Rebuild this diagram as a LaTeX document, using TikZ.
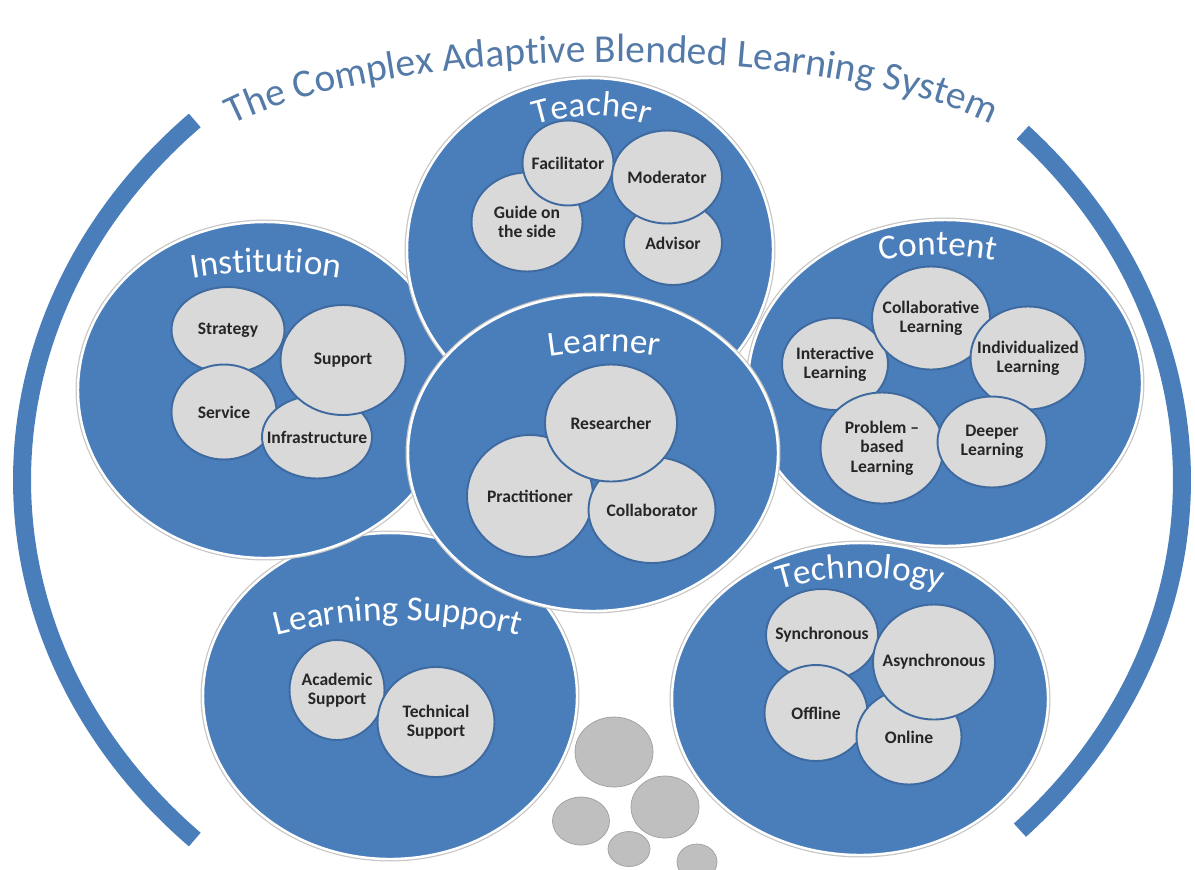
\documentclass[tikz,border=0pt]{standalone}
\usepackage{fontspec}
\setmainfont{Carlito}
\usetikzlibrary{shapes.geometric,decorations.text}
\definecolor{capblue}{RGB}{74,126,187}
\definecolor{capgray}{RGB}{217,217,217}
\definecolor{capline}{RGB}{62,106,160}
\definecolor{titleblue}{RGB}{84,122,168}
\definecolor{pebblegray}{RGB}{191,191,191}
\newcommand{\titlefont}{\fontsize{22.5}{27}\selectfont}
\newcommand{\lblfont}{\fontsize{20}{24}\selectfont}
\newcommand{\lbl}[4]{%
  \path[decorate,decoration={text along path,text align=center,text color=white,
    text={|\lblfont|#4}}]
    (#1,#2) ++(0,#3) ++(-140:#3) arc[start angle=-140,end angle=-40,radius=#3];}
\begin{document}
\begin{tikzpicture}[x=0.02cm,y=-0.02cm]
\tikzset{big/.style={ellipse,fill=capblue,draw=white,line width=1.4pt,preaction={draw=gray!45,line width=2.8pt}}}
\tikzset{sub/.style={ellipse,fill=capgray,draw=capline,line width=1.1pt,inner sep=-25pt,align=center,font=\bfseries\fontsize{10}{11}\selectfont,text=black!85}}
\tikzset{pebble/.style={ellipse,fill=pebblegray,draw=gray!75,line width=0.4pt}}
\tikzset{sz/.style 2 args={minimum width=#1*0.02cm,minimum height=#2*0.02cm}}
\tikzset{band/.style={draw=capblue,line width=0.36cm}}
\useasboundingbox (0,0) rectangle (1195,869);

\draw[band] (602,480) ++(225.4:580 and 505) arc[start angle=225.4,end angle=134.6,x radius=580,y radius=505];
\draw[band] (602,480) ++(-43.5:580 and 505) arc[start angle=-43.5,end angle=43.9,x radius=580,y radius=505];
\path[decorate,decoration={text along path,text align=center,text color=titleblue,
  text={|\titlefont|The Complex Adaptive Blended Learning System}}]
  (612,180) ++(-155:430 and 118) arc[start angle=-155,end angle=-25,x radius=430,y radius=118];

\node[big,sz={374}{326}] (lsup) at (390,696) {};
\node[sub,sz={95}{100}] (acad) at (337,690) {Academic\\Support};
\node[sub,sz={117}{110}] (techsup) at (436,722) {Technical\\Support};
\lbl{398}{620}{480}{Learning Support}

\node[big,sz={376}{312}] (techn) at (860,699) {};
\node[sub,sz={112}{92}] (sync) at (822,635) {Synchronous};
\node[sub,sz={103}{96}] (offl) at (816,713) {Offline};
\node[sub,sz={105}{95}] (onl) at (909,737) {Online};
\node[sub,sz={122}{115}] (async) at (934,662) {Asynchronous};
\lbl{860}{578}{280}{Technology}

\node[big,sz={374}{336}] (inst) at (265,390) {};
\node[sub,sz={113}{86}] (strat) at (228,330) {Strategy};
\node[sub,sz={105}{95}] (serv) at (224,412) {Service};
\node[sub,sz={110}{83}] (infra) at (317,437) {Infrastructure};
\node[sub,sz={125}{110}] (supp) at (343,360) {Support};
\lbl{266}{272}{440}{Institution}

\node[big,sz={394}{326}] (cont) at (945,383) {};
\node[sub,sz={106}{92}] (inter) at (835,364) {Interactive\\Learning};
\node[sub,sz={118}{103}] (colab) at (931,318) {Collaborative\\Learning};
\node[sub,sz={115}{103}] (indiv) at (1028,358) {Individualized\\Learning};
\node[sub,sz={123}{111}] (probl) at (882,448) {Problem --\\based\\Learning};
\node[sub,sz={109}{91}] (deep) at (992,442) {Deeper\\Learning};
\lbl{938}{255}{300}{Content}

\node[big,sz={366}{344}] (teach) at (590,250) {};
\node[sub,sz={111}{99}] (guide) at (527,222) {Guide on\\the side};
\node[sub,sz={91}{85}] (facil) at (568,163) {Facilitator};
\node[sub,sz={98}{84}] (advis) at (673,243) {Advisor};
\node[sub,sz={110}{93}] (moder) at (667,177) {Moderator};
\lbl{592}{116}{190}{Teacher}

\node[big,sz={370}{316}] (learn) at (593,453) {};
\node[sub,sz={126}{122}] (pract) at (530,496) {Practitioner};
\node[sub,sz={127}{106}] (collab) at (652,510) {Collaborator};
\node[sub,sz={132}{117}] (resea) at (611,423) {Researcher};
\lbl{604}{352}{350}{Learner}

\node[pebble,sz={78}{70}] (p1) at (614,752) {};
\node[pebble,sz={68}{62}] (p2) at (665,807) {};
\node[pebble,sz={57}{48}] (p3) at (581,821) {};
\node[pebble,sz={42}{35}] (p4) at (629,849) {};
\node[pebble,sz={40}{36}] (p5) at (697,862) {};
\end{tikzpicture}
\end{document}
